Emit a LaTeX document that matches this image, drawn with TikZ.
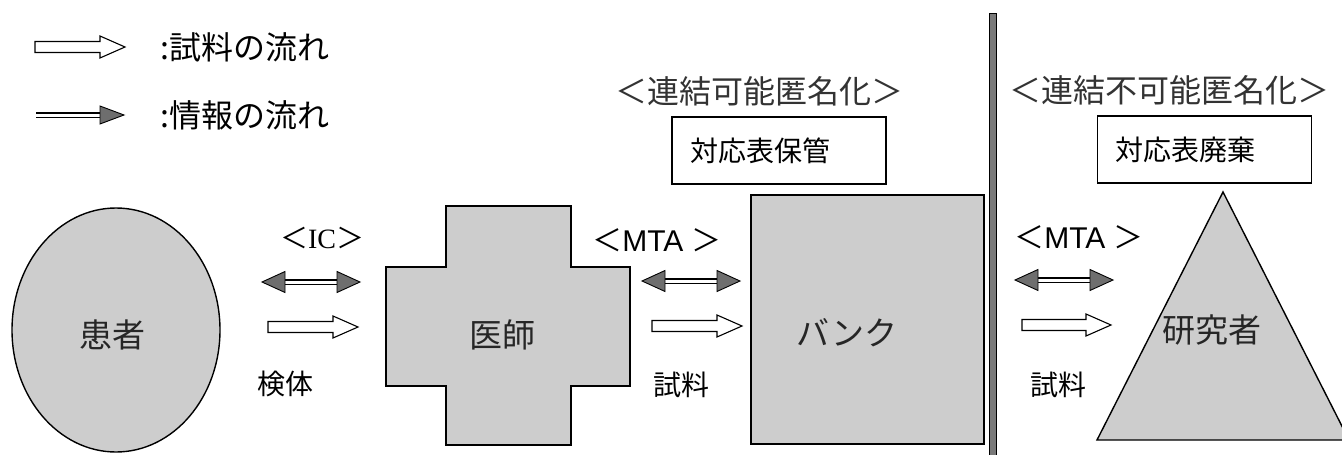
\documentclass[tikz,border=0pt]{standalone}
\usepackage{fontspec}
\setmainfont{Noto Sans CJK JP}
\newfontfamily\lsans{Liberation Sans}
\newfontfamily\lserif{Liberation Serif}
\usetikzlibrary{calc}
\definecolor{shapefill}{HTML}{CDCDCD}
\definecolor{headfill}{HTML}{6E6E6E}
\definecolor{barfill}{HTML}{7A7A7A}
\newcommand\SampleArrow[2]{%
  \draw[sampleflow] ($(#1)+(0,-5.5)$) -- ($(#2)+(-25,-5.5)$) -- ($(#2)+(-25,-11)$) -- (#2)
    -- ($(#2)+(-25,11)$) -- ($(#2)+(-25,5.5)$) -- ($(#1)+(0,5.5)$) -- cycle;}
\newcommand\InfoArrow[2]{%
  \draw[infoshaft] ($(#1)+(20,0)$) -- ($(#2)+(-20,0)$);
  \draw[headtip] (#1) -- ($(#1)+(23,-10.5)$) -- ($(#1)+(23,10.5)$) -- cycle;
  \draw[headtip] (#2) -- ($(#2)+(-23,-10.5)$) -- ($(#2)+(-23,10.5)$) -- cycle;}
\begin{document}
\begin{tikzpicture}[x=1pt,y=-1pt,
  shapeline/.style={draw=black, line width=1.4pt, fill=shapefill, line join=miter},
  bigtext/.style={font=\fontsize{33}{38}\selectfont, text=black!85, inner sep=0pt},
  midtext/.style={font=\fontsize{28}{32}\selectfont, text=black, inner sep=0pt},
  headtext/.style={font=\fontsize{32}{36}\selectfont, text=black!80, inner sep=0pt},
  legtext/.style={font=\fontsize{32}{36}\selectfont, text=black, inner sep=0pt, anchor=west},
  boxnode/.style={draw=black, line width=1.3pt, fill=white, font=\fontsize{28}{32}\selectfont,
    text width=178pt, align=left, inner xsep=18pt, inner ysep=0pt, minimum height=67pt},
  sampleflow/.style={draw=black, line width=1.1pt, fill=white, line join=miter},
  headtip/.style={draw=black, line width=0.9pt, fill=headfill, line join=miter},
  infoshaft/.style={draw=black, double=white, double distance=3pt, line width=1.6pt},
]
\useasboundingbox (0,0) rectangle (1342,455);

% legend
\coordinate (lgS1) at (35,47);
\coordinate (lgE1) at (125,47);
\SampleArrow{lgS1}{lgE1}
\node[legtext] (lgT1) at (160,47) {:試料の流れ};
\coordinate (lgS2) at (36,115);
\coordinate (lgE2) at (124,115);
\draw[infoshaft] (lgS2) -- ($(lgE2)+(-20,0)$);
\draw[headtip] (lgE2) -- ($(lgE2)+(-24,-9)$) -- ($(lgE2)+(-24,9)$) -- cycle;
\node[legtext] (lgT2) at (160,115) {:情報の流れ};

% separator bar
\draw[draw=black, line width=0.6pt, fill=barfill] (989,13) rectangle (996,458);

% headings and boxes
\node[headtext] (hd1) at (759,91) {＜連結可能匿名化＞};
\node[headtext] (hd2) at (1169,90) {＜連結不可能匿名化＞};
\node[boxnode] (keep) at (779,150.5) {対応表保管};
\node[boxnode] (discard) at (1204.5,149.5) {対応表廃棄};

% patient
\draw[shapeline] (116,330) ellipse [x radius=104, y radius=122];
\node[bigtext] (patient) at (112,335) {患者};

% doctor (cross)
\draw[shapeline] (446,206) -- (571,206) -- (571,267) -- (630,267) -- (630,386) -- (571,386)
  -- (571,445) -- (446,445) -- (446,386) -- (386,386) -- (386,267) -- (446,267) -- cycle;
\node[bigtext] (doctor) at (502,335) {医師};

% bank
\draw[shapeline] (751,195) rectangle (984,444);
\node[bigtext] (bank) at (847,333) {バンク};

% researcher (triangle)
\draw[shapeline] (1097,440) -- (1223,192) -- (1349,440) -- cycle;
\node[bigtext] (researcher) at (1212,330) {研究者};

% IC
\node[midtext] (icl) at (322,238) {＜{\lserif IC}＞};
\coordinate (icA) at (262,282);
\coordinate (icB) at (360,282);
\InfoArrow{icA}{icB}
\coordinate (icS) at (268,327);
\coordinate (icE) at (358,327);
\SampleArrow{icS}{icE}
\node[midtext] (kentai) at (285,384) {検体};

% MTA 1
\node[midtext, font=\fontsize{30}{34}\selectfont] (mta1) at (657,240) {＜{\lsans MTA }＞};
\coordinate (m1A) at (642,281);
\coordinate (m1B) at (740,281);
\InfoArrow{m1A}{m1B}
\coordinate (m1S) at (652,326);
\coordinate (m1E) at (742,326);
\SampleArrow{m1S}{m1E}
\node[midtext] (shiryo1) at (681,385) {試料};

% MTA 2
\node[midtext, font=\fontsize{30}{34}\selectfont] (mta2) at (1079,237) {＜{\lsans MTA }＞};
\coordinate (m2A) at (1015,280);
\coordinate (m2B) at (1113,280);
\InfoArrow{m2A}{m2B}
\coordinate (m2S) at (1022,325);
\coordinate (m2E) at (1111,325);
\SampleArrow{m2S}{m2E}
\node[midtext] (shiryo2) at (1058,385) {試料};
\end{tikzpicture}
\end{document}
